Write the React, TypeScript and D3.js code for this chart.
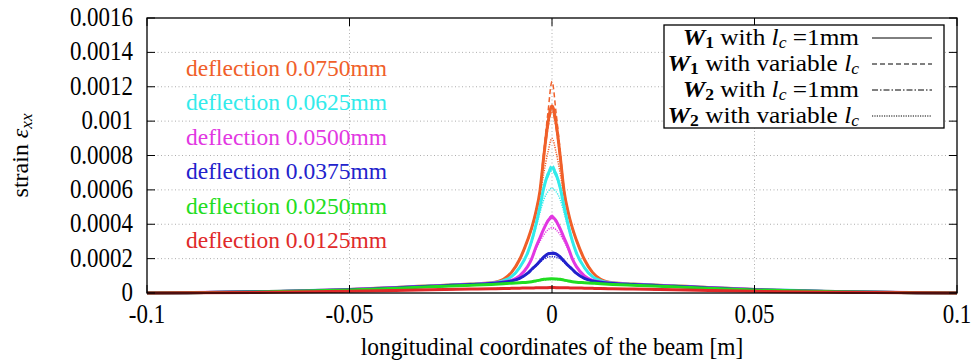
import { useMemo } from 'react'
import * as d3 from 'd3'

const W = 977
const H = 362
const margin = { top: 18, right: 20, bottom: 69, left: 147 }

// axes
const X_TICKS = [-0.1, -0.05, 0, 0.05, 0.1]
const X_LABELS = ['-0.1', '-0.05', '0', '0.05', '0.1']
const Y_TICKS = [0, 0.0002, 0.0004, 0.0006, 0.0008, 0.001, 0.0012, 0.0014, 0.0016]
const Y_LABELS = ['0', '0.0002', '0.0004', '0.0006', '0.0008', '0.001', '0.0012', '0.0014', '0.0016']

// half profile (x >= 0), curves are symmetric about x = 0
const PEAK_X = [0, 0.001, 0.002, 0.003, 0.004, 0.005, 0.006, 0.008, 0.01]
const TAIL_X = [0.012, 0.015, 0.02, 0.03, 0.05, 0.07, 0.09, 0.1]

// strain values in microstrain (1e-6)
const orangeTail = [80, 60, 52, 42, 21, 9, 2, 0]
const orangeW1Fixed = [1090, 990, 800, 590, 470, 380, 310, 195, 120]
const orangeW1Var = [1230, 1050, 830, 600, 475, 382, 310, 195, 120]
const orangeW2Fixed = [1060, 960, 785, 585, 468, 378, 308, 195, 120]
const orangeW2Var = [900, 820, 700, 560, 455, 372, 305, 193, 119]

const cyanTail = [72, 58, 51, 41, 21, 9, 2, 0]
const cyanW1Fixed = [727, 690, 615, 500, 395, 305, 235, 148, 95]
const cyanW1Var = [745, 700, 618, 500, 395, 305, 235, 148, 95]
const cyanW2Fixed = [712, 678, 608, 496, 392, 303, 234, 148, 95]
const cyanW2Var = [610, 590, 545, 465, 378, 298, 232, 147, 95]

const magentaTail = [64, 57, 50, 40, 20, 8, 2, 0]
const magentaW1Fixed = [444, 420, 375, 320, 265, 200, 155, 100, 74]
const magentaW1Var = [452, 425, 377, 321, 265, 200, 155, 100, 74]
const magentaW2Fixed = [435, 413, 370, 318, 263, 199, 154, 100, 74]
const magentaW2Var = [380, 368, 340, 300, 252, 195, 152, 99, 74]

const blueTail = [62, 56, 49, 39, 19, 8, 2, 0]
const blueW1Fixed = [232, 228, 210, 185, 160, 138, 115, 85, 70]
const blueW1Var = [237, 231, 212, 186, 160, 138, 115, 85, 70]
const blueW2Fixed = [228, 224, 207, 183, 159, 137, 115, 85, 70]
const blueW2Var = [212, 209, 198, 178, 156, 135, 114, 85, 70]

const greenTail = [54, 50, 45, 36, 18, 7, 2, 0]
const greenW1Fixed = [83, 82, 80, 75, 70, 66, 63, 60, 57]
const greenW1Var = [84, 83, 80, 75, 70, 66, 63, 60, 57]
const greenW2Fixed = [82, 81, 79, 74, 70, 66, 63, 60, 57]
const greenW2Var = [78, 78, 76, 73, 69, 66, 63, 60, 57]

const redTail = [26, 25, 23, 19, 10, 4, 1, 0]
const redW1Fixed = [32, 31, 31, 30, 30, 29, 29, 28, 27]
const redW1Var = [33, 32, 31, 30, 30, 29, 29, 28, 27]
const redW2Fixed = [31, 31, 30, 30, 29, 29, 29, 28, 27]
const redW2Var = [30, 30, 30, 29, 29, 29, 28, 28, 27]

const DEFLECTIONS = ['0.0750', '0.0625', '0.0500', '0.0375', '0.0250', '0.0125']
const COLORS = ['#F0602A', '#33EBEB', '#E238E2', '#2222CC', '#22DD22', '#E02A2A']
const TAILS = [orangeTail, cyanTail, magentaTail, blueTail, greenTail, redTail]
const PEAKS = [
  [orangeW1Fixed, orangeW1Var, orangeW2Fixed, orangeW2Var],
  [cyanW1Fixed, cyanW1Var, cyanW2Fixed, cyanW2Var],
  [magentaW1Fixed, magentaW1Var, magentaW2Fixed, magentaW2Var],
  [blueW1Fixed, blueW1Var, blueW2Fixed, blueW2Var],
  [greenW1Fixed, greenW1Var, greenW2Fixed, greenW2Var],
  [redW1Fixed, redW1Var, redW2Fixed, redW2Var]
]

// line styles: W1 lc=1mm, W1 variable lc, W2 lc=1mm, W2 variable lc
const DASHES = ['', '5,3', '6,2,1.5,2', '1.2,1.2']
const WIDTHS = [3, 1.5, 1.5, 1.5]

const FONT = '"Liberation Serif", "DejaVu Serif", serif'

export default function App() {
  const x = d3.scaleLinear().domain([-0.1, 0.1]).range([margin.left, W - margin.right])
  const y = d3.scaleLinear().domain([0, 0.0016]).range([H - margin.bottom, margin.top])

  const line = d3.line<[number, number]>()
    .x(d => x(d[0]))
    .y(d => y(d[1] * 1e-6))
    .curve(d3.curveMonotoneX)

  const curves = useMemo(() => {
    const out: { d: string; color: string; dash: string; width: number }[] = []
    PEAKS.forEach((group, gi) => {
      group.forEach((peak, vi) => {
        const halfX = [...PEAK_X, ...TAIL_X]
        const halfY = [...peak, ...TAILS[gi]]
        const pts: [number, number][] = []
        for (let i = halfX.length - 1; i > 0; i--) pts.push([-halfX[i], halfY[i]])
        for (let i = 0; i < halfX.length; i++) pts.push([halfX[i], halfY[i]])
        out.push({ d: line(pts) || '', color: COLORS[gi], dash: DASHES[vi], width: WIDTHS[vi] })
      })
    })
    return out
  }, [])

  const x0 = margin.left
  const x1 = W - margin.right
  const y0 = H - margin.bottom
  const y1 = margin.top
  const tick = 8

  const legendRows = [
    { w: '1', rest: 'with ', tail: ' =1mm' },
    { w: '1', rest: 'with variable ', tail: '' },
    { w: '2', rest: 'with ', tail: ' =1mm' },
    { w: '2', rest: 'with variable ', tail: '' }
  ]

  return (
    <svg width={W} height={H} style={{ position: 'absolute', left: 0, top: 0, background: '#fff' }}>
      {/* grid */}
      <g stroke="#999" strokeWidth={0.8} strokeDasharray="1,2.5">
        {Y_TICKS.slice(1, -1).map(t => (
          <line key={'gy' + t} x1={x0} x2={x1} y1={y(t)} y2={y(t)} />
        ))}
        {X_TICKS.slice(1, -1).map(t => (
          <line key={'gx' + t} x1={x(t)} x2={x(t)} y1={y0} y2={y1} />
        ))}
      </g>

      {/* curves */}
      <g fill="none" strokeLinejoin="round">
        {curves.map((c, i) => (
          <path key={i} d={c.d} stroke={c.color} strokeWidth={c.width} strokeDasharray={c.dash || undefined} />
        ))}
      </g>

      {/* ticks */}
      <g stroke="#000" strokeWidth={1}>
        {Y_TICKS.map(t => (
          <g key={'ty' + t}>
            <line x1={x0} x2={x0 + tick} y1={y(t)} y2={y(t)} />
            <line x1={x1} x2={x1 - tick} y1={y(t)} y2={y(t)} />
          </g>
        ))}
        {X_TICKS.map(t => (
          <g key={'tx' + t}>
            <line x1={x(t)} x2={x(t)} y1={y0} y2={y0 - tick} />
            <line x1={x(t)} x2={x(t)} y1={y1} y2={y1 + tick} />
          </g>
        ))}
      </g>

      {/* frame */}
      <rect x={x0} y={y1} width={x1 - x0} height={y0 - y1} fill="none" stroke="#000" strokeWidth={1.3} />

      {/* tick labels (glyphs are narrow and tall in the original) */}
      <g fontFamily={FONT} fontSize={27} fill="#000">
        {Y_TICKS.map((t, i) => (
          <text key={'ly' + t} transform={`translate(${x0 - 14},${y(t) + 8}) scale(0.85,1)`} textAnchor="end">
            {Y_LABELS[i]}
          </text>
        ))}
        {X_TICKS.map((t, i) => (
          <text key={'lx' + t} transform={`translate(${x(t)},${y0 + 30}) scale(0.85,1)`} textAnchor="middle">
            {X_LABELS[i]}
          </text>
        ))}
      </g>

      {/* axis titles */}
      <text transform={`translate(${(x0 + x1) / 2},355) scale(0.9,1)`} textAnchor="middle" fontFamily={FONT} fontSize={26}>
        longitudinal coordinates of the beam [m]
      </text>
      <text transform={`translate(28,${(y0 + y1) / 2}) rotate(-90)`} textAnchor="middle" fontFamily={FONT} fontSize={24}>
        strain <tspan fontStyle="italic">ε</tspan><tspan fontStyle="italic" fontSize={17} dy={4}>xx</tspan>
      </text>

      {/* deflection labels */}
      <g fontFamily={FONT} fontSize={23.5}>
        {DEFLECTIONS.map((d, i) => (
          <text key={d} x={186} y={76 + i * 34.4} fill={COLORS[i]}>deflection {d}mm</text>
        ))}
      </g>

      {/* legend */}
      <rect x={664} y={25} width={280} height={103} fill="#fff" stroke="#000" strokeWidth={1.3} />
      <g fontFamily={FONT} fontSize={23}>
        {legendRows.map((r, i) => {
          const ly = 38 + i * 26
          return (
            <g key={i}>
              <text transform={`translate(859,${ly + 7}) scale(1.1,1)`} textAnchor="end">
                <tspan fontWeight="bold" fontStyle="italic">W</tspan>
                <tspan fontWeight="bold" fontSize={16} dy={3}>{r.w}</tspan>
                <tspan dy={-3}> {r.rest}</tspan>
                <tspan fontStyle="italic">l</tspan>
                <tspan fontStyle="italic" fontSize={16} dy={3}>c</tspan>
                <tspan dy={-3}>{r.tail}</tspan>
              </text>
              <line x1={872} x2={932} y1={ly} y2={ly} stroke="#000" strokeWidth={1}
                strokeDasharray={DASHES[i] || undefined} />
            </g>
          )
        })}
      </g>
    </svg>
  )
}
